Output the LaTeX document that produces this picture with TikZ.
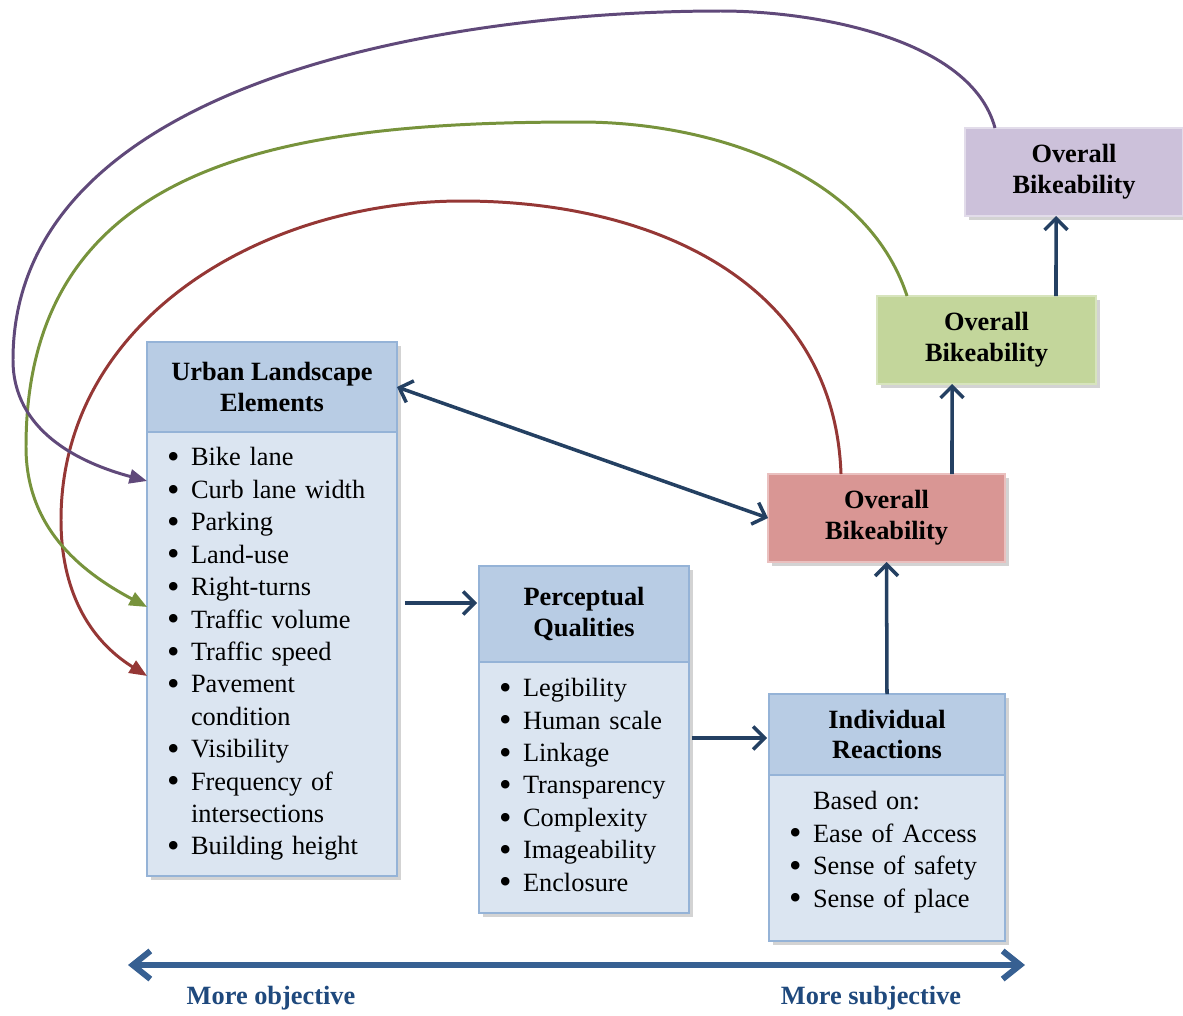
\documentclass[tikz,border=0pt]{standalone}
\usepackage{fontspec}
\setmainfont{LiberationSerif}[Extension=.ttf, UprightFont=*-Regular, BoldFont=*-Bold, ItalicFont=*-Italic, BoldItalicFont=*-BoldItalic]
\usepackage{tikz}
\usetikzlibrary{calc}
\usetikzlibrary{positioning}
\usetikzlibrary{arrows.meta,shadows}

\definecolor{headblue}{RGB}{184,204,228}
\definecolor{bodyblue}{RGB}{219,229,241}
\definecolor{edgeblue}{RGB}{149,179,215}
\definecolor{arrownavy}{RGB}{36,64,98}
\definecolor{redfill}{RGB}{217,150,148}
\definecolor{rededge}{RGB}{234,192,191}
\definecolor{greenfill}{RGB}{195,214,155}
\definecolor{greenedge}{RGB}{215,228,189}
\definecolor{purplefill}{RGB}{204,193,218}
\definecolor{purpleedge}{RGB}{226,220,234}
\definecolor{redline}{RGB}{149,55,53}
\definecolor{greenline}{RGB}{119,147,60}
\definecolor{purpleline}{RGB}{96,73,122}
\definecolor{axisblue}{RGB}{55,96,146}
\definecolor{lblblue}{RGB}{31,73,125}

\newcommand{\titlefont}{\fontsize{15}{17.6}\selectfont\bfseries}
\newcommand{\listfont}{\fontsize{15}{18.45}\selectfont}
\newcommand{\blt}{\raisebox{-0.1em}{\scalebox{1.35}{\textbullet}}}

\tikzset{
	boxshadow/.style={drop shadow={shadow xshift=2.5pt,shadow yshift=-2.5pt,opacity=0.35}},
	headbox/.style={draw=edgeblue, line width=1pt, fill=headblue, align=center, outer sep=0pt, inner sep=0pt, font=\titlefont, boxshadow},
	listbox/.style={draw=edgeblue, line width=1pt, fill=bodyblue, align=left, outer sep=0pt, inner xsep=0.4cm, inner ysep=0pt, font=\listfont, boxshadow},
	overall/.style={line width=1pt, align=center, outer sep=0pt, inner sep=0pt, minimum height=1.76cm, font=\titlefont, boxshadow},
	flow/.style={draw=arrownavy, line width=2pt, -{Straight Barb[length=6.5pt,width=13pt]}},
	flowboth/.style={draw=arrownavy, line width=2pt, {Straight Barb[length=6.5pt,width=13pt]}-{Straight Barb[length=6.5pt,width=13pt]}},
	loopline/.style={line width=1.7pt, -{Triangle[length=10pt,width=8pt]}},
	axis/.style={draw=axisblue, line width=3.4pt, {Straight Barb[length=10pt,width=16pt]}-{Straight Barb[length=10pt,width=16pt]}},
	axislbl/.style={text=lblblue, font=\titlefont}
}

\begin{document}
\begin{tikzpicture}[x=0.02cm,y=0.02cm]

	\useasboundingbox (0,0) rectangle (1183,-1015);

	%Urban landscape elements
	\node[headbox, minimum width=5cm, minimum height=1.8cm] (ulehead) at (272,-387) {Urban Landscape\\Elements};
	\node[listbox, text width=4.2cm, minimum height=8.88cm, below=0pt of ulehead] (ulebody) {%
		\begin{tabular}{@{}p{0.48cm}@{}l@{}}
		\blt & Bike lane\\
		\blt & Curb lane width\\
		\blt & Parking\\
		\blt & Land-use\\
		\blt & Right-turns\\
		\blt & Traffic volume\\
		\blt & Traffic speed\\
		\blt & Pavement\\
		     & condition\\
		\blt & Visibility\\
		\blt & Frequency of\\
		     & intersections\\
		\blt & Building height
		\end{tabular}};

	%Perceptual qualities
	\node[headbox, minimum width=4.2cm, minimum height=1.92cm] (pqhead) at (584,-614) {Perceptual\\Qualities};
	\node[listbox, text width=3.4cm, minimum height=5.02cm, below=0pt of pqhead] (pqbody) {%
		\begin{tabular}{@{}p{0.48cm}@{}l@{}}
		\blt & Legibility\\
		\blt & Human scale\\
		\blt & Linkage\\
		\blt & Transparency\\
		\blt & Complexity\\
		\blt & Imageability\\
		\blt & Enclosure
		\end{tabular}};

	%Individual reactions
	\node[headbox, minimum width=4.72cm, minimum height=1.62cm] (irhead) at (887,-734.5) {Individual\\Reactions};
	\node[listbox, text width=3.92cm, minimum height=3.32cm, below=0pt of irhead] (irbody) {%
		\begin{tabular}{@{}p{0.48cm}@{}l@{}}
		     & Based on:\\
		\blt & Ease of Access\\
		\blt & Sense of safety\\
		\blt & Sense of place\\[0.24cm]
		\end{tabular}};

	%Overall bikeability
	\node[overall, draw=rededge, fill=redfill, minimum width=4.74cm] (ovred) at (886.5,-518) {Overall\\Bikeability};
	\node[overall, draw=greenedge, fill=greenfill, minimum width=4.38cm] (ovgreen) at (986.5,-340) {Overall\\Bikeability};
	\node[overall, draw=purpleedge, fill=purplefill, minimum width=4.36cm] (ovpurple) at (1074,-172) {Overall\\Bikeability};

	%Flows
	\draw[flow] ($(ulebody.east |- pqhead.west)+(8,11)$) -- ($(pqhead.west)+(-2,11)$);
	\draw[flow] ($(pqbody.east |- irhead.west)+(3,-3.5)$) -- ($(irhead.west)+(-2,-3.5)$);
	\draw[flow] (irhead.north) -- (ovred.south);
	\draw[flow] ([xshift=1.31cm]ovred.north) -- ([xshift=-0.69cm]ovgreen.south);
	\draw[flow] ([xshift=1.39cm]ovgreen.north) -- ([xshift=-0.36cm]ovpurple.south);
	\draw[flowboth] (ulehead.east) -- (ovred.west);

	%Feedback loops
	\draw[loopline, redline] ([xshift=-0.91cm]ovred.north) to[out=92,in=0,looseness=1.05] (462,-201) to[out=180,in=90] (61,-520) to[out=-90,in=148] ([yshift=-0.44cm]ulebody.west);
	\draw[loopline, greenline] ([xshift=-1.59cm]ovgreen.north) to[out=108,in=0,looseness=0.9] (580,-122) to[out=180,in=90,looseness=1.15] (26,-447) to[out=-90,in=152] ([yshift=0.94cm]ulebody.west);
	\draw[loopline, purpleline] ([xshift=-1.58cm]ovpurple.north) to[out=105,in=0,looseness=0.8] (721,-11) to[out=180,in=90,looseness=0.9] (13,-360) to[out=-90,in=165] ([yshift=3.46cm]ulebody.west);

	%Objective - subjective axis
	\coordinate (axisL) at (128,-965);
	\coordinate (axisR) at (1025,-965);
	\draw[axis] (axisL) -- (axisR);
	\node[axislbl] (objlbl) at (271,-998) {More objective};
	\node[axislbl] (subjlbl) at (871,-998) {More subjective};

\end{tikzpicture}
\end{document}
